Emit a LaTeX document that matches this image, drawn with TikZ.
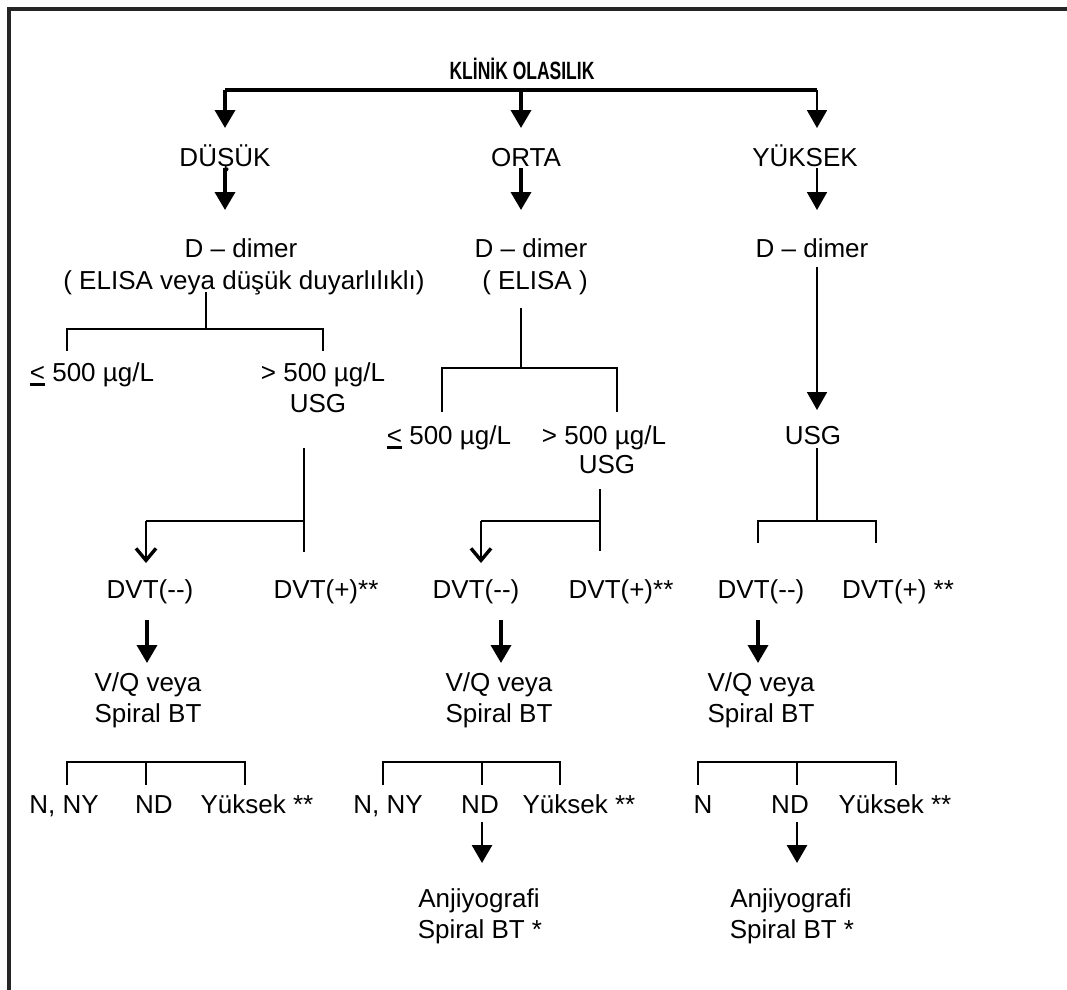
\documentclass[tikz,border=0pt]{standalone}
\usepackage{fontspec}
\setmainfont{Liberation Sans}
\usetikzlibrary{arrows.meta}
\newcommand\ltmark{{\setbox0\hbox{<}\rlap{\rule[-5pt]{\wd0}{2.6pt}}<}}
\begin{document}
\begin{tikzpicture}[x=1pt,y=-1pt,
  lbl/.style={inner sep=0pt, anchor=base, font=\fontsize{26}{30}\selectfont},
  ttl/.style={inner sep=0pt, anchor=base, font=\fontsize{25}{28}\selectfont\bfseries},
  thk/.style={line width=3.6pt},
  mid/.style={line width=2.8pt},
  thn/.style={line width=1.8pt},
  fa/.style={-{Triangle[width=20pt,length=18pt]}},
  oa/.style={-{Straight Barb[width=20pt,length=12pt,line width=3.4pt]}},
  frame/.style={line width=3.6pt, black!85}]
\useasboundingbox (0,0) rectangle (1067,989);
% frame
\draw[frame] (9,995) -- (9,9) -- (1070,9);

% title
\node[ttl] (title) at (522,79) {\scalebox{0.7}[1]{KLİNİK  OLASILIK}};

% level 1
\node[lbl] (dusuk) at (225,166) {DÜŞÜK};
\node[lbl] (orta) at (526,166) {ORTA};
\node[lbl] (yuksek) at (805,166) {YÜKSEK};
\coordinate (t0) at (521,90);
\coordinate (tl) at (225,90);
\coordinate (tr) at (817,90);
\coordinate (tlend) at (225,128);
\coordinate (tmend) at (521,128);
\coordinate (trend) at (817,128);
\draw[thk] (tl) -- (tr);
\draw[thk,fa] (tl) -- (tlend);
\draw[thk,fa] (t0) -- (tmend);
\draw[thn,fa] (tr) -- (trend);

% D-dimer
\node[lbl] (dd1) at (241,257) {D – dimer};
\node[lbl] (el1) at (244,289) {( ELISA veya düşük duyarlılıklı)};
\node[lbl] (dd2) at (531,257) {D – dimer};
\node[lbl] (el2) at (535,289) {( ELISA )};
\node[lbl] (dd3) at (812,257) {D – dimer};
\draw[thk,fa] (225,168) -- (225,210);
\draw[thk,fa] (521,168) -- (521,210);
\draw[thn,fa] (817,168) -- (817,210);

% left bracket (low)
\coordinate (b1top) at (206,292);
\coordinate (b1c) at (206,329);
\coordinate (b1l) at (67,329);
\coordinate (b1r) at (323,329);
\draw[mid] (b1top) -- (b1c);
\draw[mid] (67,351) -- (b1l) -- (b1r) -- (323,351);
\node[lbl] (lo1) at (92,381) {\ltmark{} 500 µg/L};
\node[lbl] (hi1) at (323,381) {> 500 µg/L};
\node[lbl] (usg1) at (318,412) {USG};

% middle bracket
\coordinate (b2top) at (521,308);
\coordinate (b2c) at (521,368);
\draw[mid] (b2top) -- (b2c);
\draw[mid] (442,412) -- (442,368) -- (617,368) -- (617,412);
\node[lbl] (lo2) at (449,444) {\ltmark{} 500 µg/L};
\node[lbl] (hi2) at (604,444) {> 500 µg/L};
\node[lbl] (usg2) at (607,473) {USG};

% right
\node[lbl] (usg3) at (813,444) {USG};
\draw[thn,fa] (817,267) -- (817,410);

% USG branches
\draw[mid] (304,448) -- (304,552);
\draw[thn] (304,521) -- (146,521);
\draw[mid,oa] (146,521) -- (146,563);
\draw[mid] (600,489) -- (600,551);
\draw[thn] (600,521) -- (481,521);
\draw[mid,oa] (481,521) -- (481,563);
\draw[thn] (817,448) -- (817,521);
\draw[mid] (758,543) -- (758,521) -- (876,521) -- (876,543);

% DVT row
\node[lbl] (dn1) at (150,598) {DVT(-{}-)};
\node[lbl] (dp1) at (326,598) {DVT(+)**};
\node[lbl] (dn2) at (476,598) {DVT(-{}-)};
\node[lbl] (dp2) at (621,598) {DVT(+)**};
\node[lbl] (dn3) at (761,598) {DVT(-{}-)};
\node[lbl] (dp3) at (898,598) {DVT(+) **};

\draw[thk,fa] (147,620) -- (147,663);
\draw[thk,fa] (501,620) -- (501,663);
\draw[thk,fa] (758,620) -- (758,663);

% V/Q
\node[lbl] (vq1) at (148,691) {V/Q veya};
\node[lbl] (sp1) at (148,722) {Spiral BT};
\node[lbl] (vq2) at (499,691) {V/Q veya};
\node[lbl] (sp2) at (499,722) {Spiral BT};
\node[lbl] (vq3) at (761,691) {V/Q veya};
\node[lbl] (sp3) at (761,722) {Spiral BT};

% result brackets
\draw[mid] (67,785) -- (67,762) -- (245,762) -- (245,785);
\draw[mid] (146,762) -- (146,785);
\draw[mid] (383,785) -- (383,762) -- (560,762) -- (560,785);
\draw[mid] (482,762) -- (482,785);
\draw[mid] (698,785) -- (698,762) -- (896,762) -- (896,785);
\draw[mid] (797,762) -- (797,785);

\node[lbl] (n1) at (64,813) {N, NY};
\node[lbl] (nd1) at (154,813) {ND};
\node[lbl] (y1) at (257,813) {Yüksek **};
\node[lbl] (n2) at (388,813) {N, NY};
\node[lbl] (nd2) at (480,813) {ND};
\node[lbl] (y2) at (579,813) {Yüksek **};
\node[lbl] (n3) at (703,813) {N};
\node[lbl] (nd3) at (790,813) {ND};
\node[lbl] (y3) at (895,813) {Yüksek **};

\draw[mid,fa] (482,822) -- (482,863);
\draw[mid,fa] (797,822) -- (797,863);

\node[lbl] (an2) at (479,907) {Anjiyografi};
\node[lbl] (sb2) at (480,938) {Spiral BT *};
\node[lbl] (an3) at (791,907) {Anjiyografi};
\node[lbl] (sb3) at (792,938) {Spiral BT *};
\end{tikzpicture}
\end{document}
